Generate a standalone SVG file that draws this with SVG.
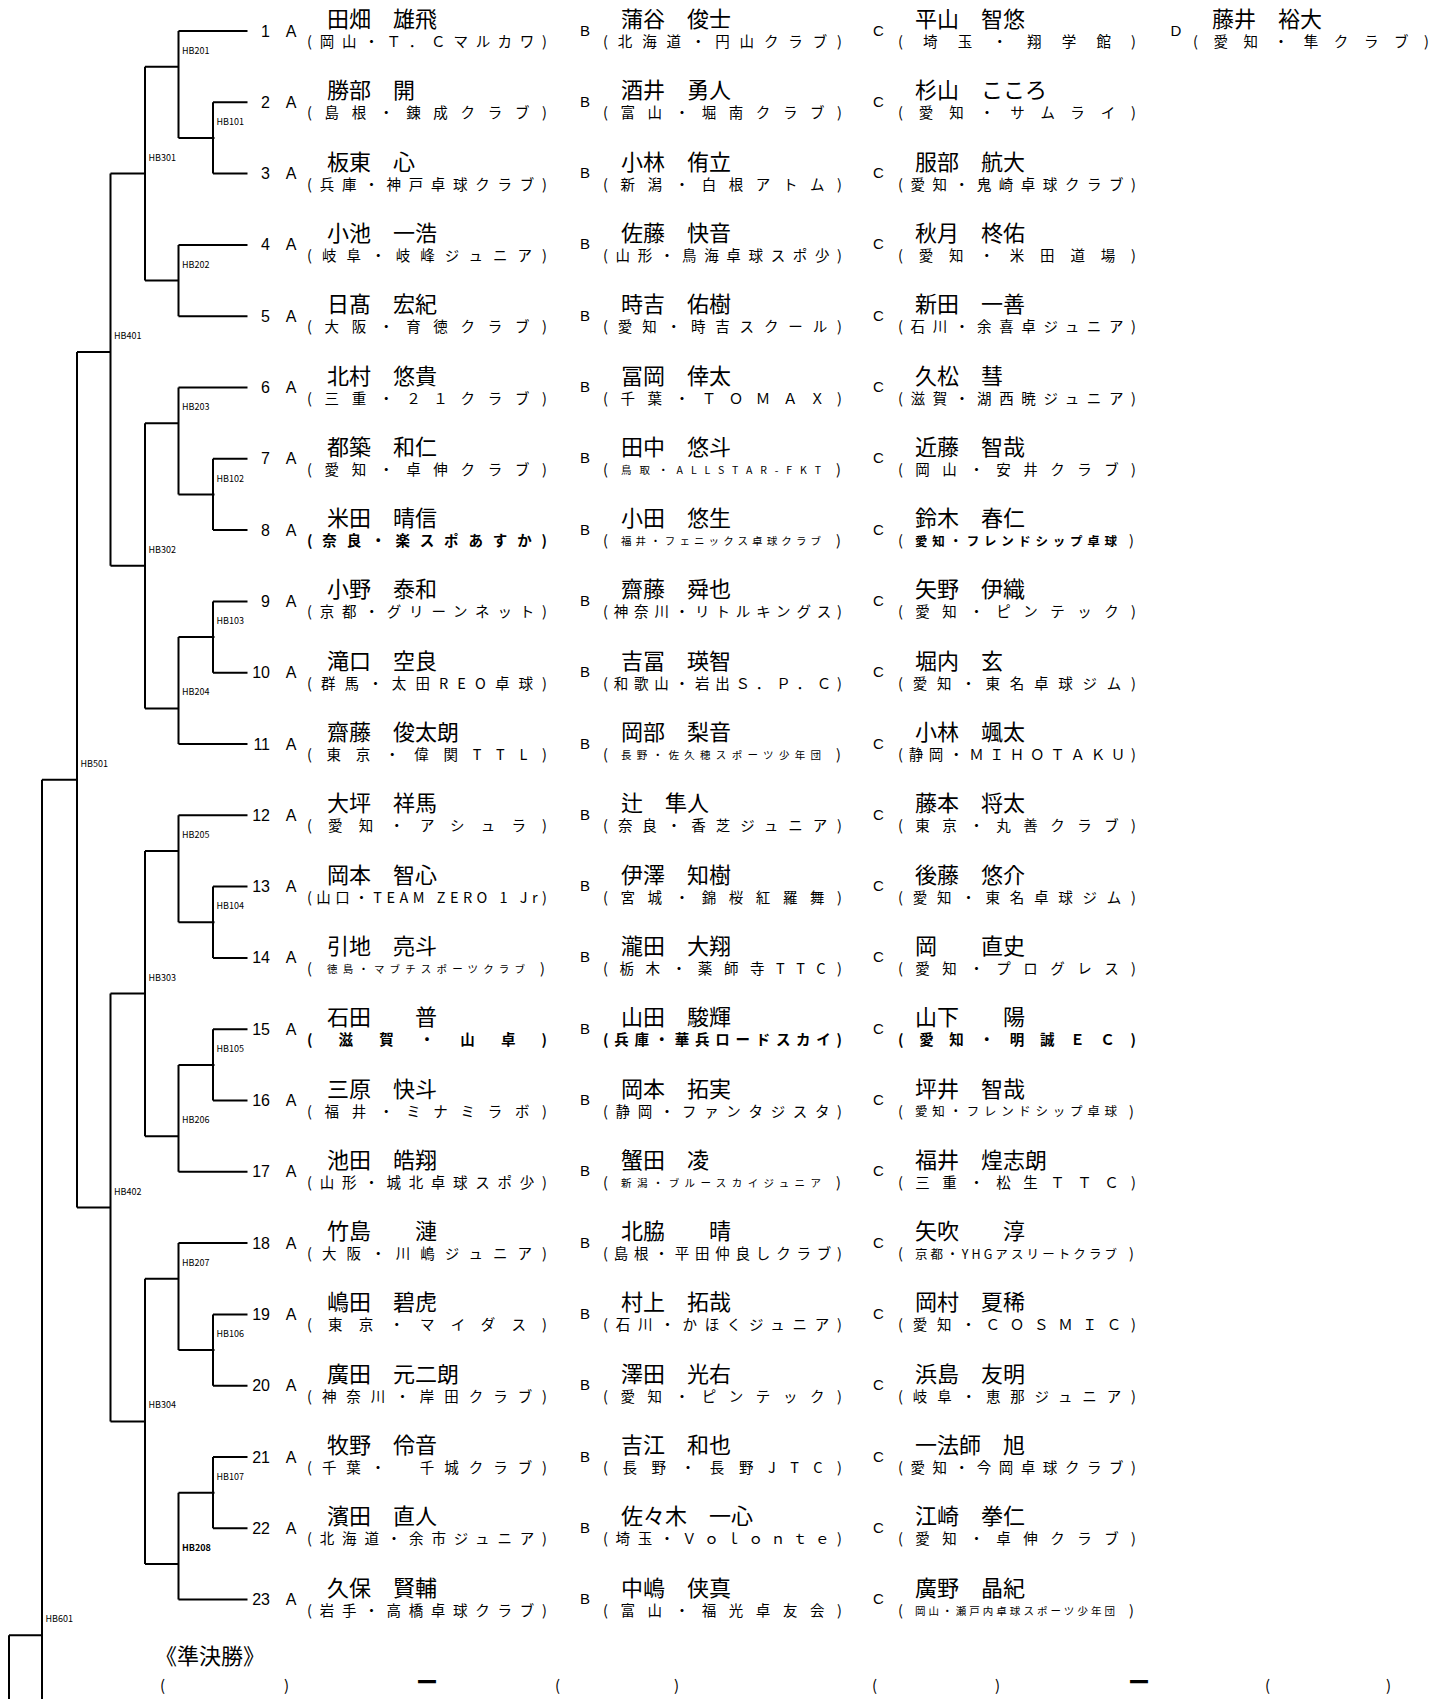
<svg xmlns="http://www.w3.org/2000/svg" width="1433" height="1699" viewBox="0 0 1433 1699">
<style>
text{font-family:"Noto Sans CJK JP","Noto Sans",sans-serif;fill:#000}
.num{font-family:"Liberation Sans",Arial,sans-serif;font-size:16px;text-anchor:end}
.pa{font-family:"Liberation Sans",Arial,sans-serif;font-size:16px;text-anchor:middle}
.pb{font-family:"Liberation Sans",Arial,sans-serif;font-size:15px;text-anchor:middle}
.nm{font-size:22px}
.cl{font-size:14.5px}
.cs{font-size:10.5px}
.cm{font-size:12.5px}
.b{font-weight:bold}
.hb{font-family:"Liberation Sans",Arial,sans-serif;font-size:9px;fill:#333}
.ln{fill:none;stroke:#000;stroke-width:2}
.bt{font-size:15px}
</style>
<g id="connectors" class="ln">
<path d="M178.5 31H247.5M213 102.3H247.5M213 173.6H247.5M178.5 244.9H247.5M178.5 316.2H247.5M178.5 387.5H247.5M213 458.8H247.5M213 530.1H247.5M213 601.4H247.5M213 672.7H247.5M178.5 744H247.5M178.5 815.3H247.5M213 886.6H247.5M213 957.9H247.5M213 1029.2H247.5M213 1100.5H247.5M178.5 1171.8H247.5M178.5 1243.1H247.5M213 1314.4H247.5M213 1385.7H247.5M213 1457H247.5M213 1528.3H247.5M178.5 1599.6H247.5"/>
<path d="M213 102.3V173.6M178.5 138H214.5M178.5 31V138M145 66.7H178.5M178.5 244.9V316.2M145 280.6H178.5M145 66.7V280.6M110.5 173.6H145"/>
<path d="M213 458.8V530.1M178.5 494.5H214.5M178.5 387.5V494.5M145 423.2H178.5M213 601.4V672.7M178.5 637.1H214.5M178.5 637.1V744M145 708.4H178.5M145 423.2V708.4M110.5 565.8H145M110.5 173.6V565.8M77 351.9H110.5"/>
<path d="M213 886.6V957.9M178.5 922.3H214.5M178.5 815.3V922.3M145 851H178.5M213 1029.2V1100.5M178.5 1064.9H214.5M178.5 1064.9V1171.8M145 1136.2H178.5M145 851V1136.2M110.5 993.6H145"/>
<path d="M213 1314.4V1385.7M178.5 1350.1H214.5M178.5 1243.1V1350.1M145 1278.8H178.5M213 1457V1528.3M178.5 1492.7H214.5M178.5 1492.7V1599.6M145 1564H178.5M145 1278.8V1564M110.5 1421.4H145M110.5 993.6V1421.4M77 1207.5H110.5"/>
<path d="M77 351.9V1207.5M42 779.7H77M42 779.7V1699M9 1635.3H42M9 1635.3V1699"/>
</g>
<g id="match-labels" class="hb">
<text x="216.5" y="125">HB101</text>
<text x="182" y="53.7">HB201</text>
<text x="182" y="267.6">HB202</text>
<text x="148.5" y="160.6">HB301</text>
<text x="216.5" y="481.5">HB102</text>
<text x="182" y="410.2">HB203</text>
<text x="216.5" y="624.1">HB103</text>
<text x="182" y="695.4">HB204</text>
<text x="148.5" y="552.8">HB302</text>
<text x="114" y="338.9">HB401</text>
<text x="216.5" y="909.3">HB104</text>
<text x="182" y="838">HB205</text>
<text x="216.5" y="1051.9">HB105</text>
<text x="182" y="1123.2">HB206</text>
<text x="148.5" y="980.6">HB303</text>
<text x="216.5" y="1337.1">HB106</text>
<text x="182" y="1265.8">HB207</text>
<text x="216.5" y="1479.7">HB107</text>
<text x="182" y="1551" font-weight="bold">HB208</text>
<text x="148.5" y="1408.4">HB304</text>
<text x="114" y="1194.5">HB402</text>
<text x="80.5" y="766.7">HB501</text>
<text x="45.5" y="1622.3">HB601</text>
</g>
<g id="row-1" transform="translate(0,31)">
<text class="num" x="270" y="5.5">1</text><text class="pa" x="291" y="5.5">A</text>
<text class="nm" x="327" y="-4">田畑　雄飛</text><text class="cl" x="307" y="16" textLength="240">(岡山・Ｔ．Ｃマルカワ)</text>
<text class="pb" x="585" y="4.5">B</text><text class="nm" x="621" y="-4">蒲谷　俊士</text><text class="cl" x="603" y="16" textLength="239">(北海道・円山クラブ)</text>
<text class="pb" x="878.5" y="4.5">C</text><text class="nm" x="915" y="-4">平山　智悠</text><text class="cl" x="898" y="16" textLength="238">(埼玉・翔学館)</text>
<text class="pb" x="1176" y="4.5">D</text><text class="nm" x="1212" y="-4">藤井　裕大</text><text class="cl" x="1193" y="16" textLength="236">(愛知・隼クラブ)</text>
</g>
<g id="row-2" transform="translate(0,102.3)">
<text class="num" x="270" y="5.5">2</text><text class="pa" x="291" y="5.5">A</text>
<text class="nm" x="327" y="-4">勝部　開</text><text class="cl" x="307" y="16" textLength="240">(島根・錬成クラブ)</text>
<text class="pb" x="585" y="4.5">B</text><text class="nm" x="621" y="-4">酒井　勇人</text><text class="cl" x="603" y="16" textLength="239">(富山・堀南クラブ)</text>
<text class="pb" x="878.5" y="4.5">C</text><text class="nm" x="915" y="-4">杉山　こころ</text><text class="cl" x="898" y="16" textLength="238">(愛知・サムライ)</text>
</g>
<g id="row-3" transform="translate(0,173.6)">
<text class="num" x="270" y="5.5">3</text><text class="pa" x="291" y="5.5">A</text>
<text class="nm" x="327" y="-4">板東　心</text><text class="cl" x="307" y="16" textLength="240">(兵庫・神戸卓球クラブ)</text>
<text class="pb" x="585" y="4.5">B</text><text class="nm" x="621" y="-4">小林　侑立</text><text class="cl" x="603" y="16" textLength="239">(新潟・白根アトム)</text>
<text class="pb" x="878.5" y="4.5">C</text><text class="nm" x="915" y="-4">服部　航大</text><text class="cl" x="898" y="16" textLength="238">(愛知・鬼崎卓球クラブ)</text>
</g>
<g id="row-4" transform="translate(0,244.9)">
<text class="num" x="270" y="5.5">4</text><text class="pa" x="291" y="5.5">A</text>
<text class="nm" x="327" y="-4">小池　一浩</text><text class="cl" x="307" y="16" textLength="240">(岐阜・岐峰ジュニア)</text>
<text class="pb" x="585" y="4.5">B</text><text class="nm" x="621" y="-4">佐藤　快音</text><text class="cl" x="603" y="16" textLength="239">(山形・鳥海卓球スポ少)</text>
<text class="pb" x="878.5" y="4.5">C</text><text class="nm" x="915" y="-4">秋月　柊佑</text><text class="cl" x="898" y="16" textLength="238">(愛知・米田道場)</text>
</g>
<g id="row-5" transform="translate(0,316.2)">
<text class="num" x="270" y="5.5">5</text><text class="pa" x="291" y="5.5">A</text>
<text class="nm" x="327" y="-4">日髙　宏紀</text><text class="cl" x="307" y="16" textLength="240">(大阪・育徳クラブ)</text>
<text class="pb" x="585" y="4.5">B</text><text class="nm" x="621" y="-4">時吉　佑樹</text><text class="cl" x="603" y="16" textLength="239">(愛知・時吉スクール)</text>
<text class="pb" x="878.5" y="4.5">C</text><text class="nm" x="915" y="-4">新田　一善</text><text class="cl" x="898" y="16" textLength="238">(石川・余喜卓ジュニア)</text>
</g>
<g id="row-6" transform="translate(0,387.5)">
<text class="num" x="270" y="5.5">6</text><text class="pa" x="291" y="5.5">A</text>
<text class="nm" x="327" y="-4">北村　悠貴</text><text class="cl" x="307" y="16" textLength="240">(三重・２１クラブ)</text>
<text class="pb" x="585" y="4.5">B</text><text class="nm" x="621" y="-4">冨岡　倖太</text><text class="cl" x="603" y="16" textLength="239">(千葉・ＴＯＭＡＸ)</text>
<text class="pb" x="878.5" y="4.5">C</text><text class="nm" x="915" y="-4">久松　彗</text><text class="cl" x="898" y="16" textLength="238">(滋賀・湖西暁ジュニア)</text>
</g>
<g id="row-7" transform="translate(0,458.8)">
<text class="num" x="270" y="5.5">7</text><text class="pa" x="291" y="5.5">A</text>
<text class="nm" x="327" y="-4">都築　和仁</text><text class="cl" x="307" y="16" textLength="240">(愛知・卓伸クラブ)</text>
<text class="pb" x="585" y="4.5">B</text><text class="nm" x="621" y="-4">田中　悠斗</text><text class="cl" x="603" y="16">(</text><text class="cs" x="621" y="15" textLength="200">鳥取・ALLSTAR-FKT</text><text class="cl" x="836" y="16">)</text>
<text class="pb" x="878.5" y="4.5">C</text><text class="nm" x="915" y="-4">近藤　智哉</text><text class="cl" x="898" y="16" textLength="238">(岡山・安井クラブ)</text>
</g>
<g id="row-8" transform="translate(0,530.1)">
<text class="num" x="270" y="5.5">8</text><text class="pa" x="291" y="5.5">A</text>
<text class="nm" x="327" y="-4">米田　晴信</text><text class="cl b" x="307" y="16" textLength="240">(奈良・楽スポあすか)</text>
<text class="pb" x="585" y="4.5">B</text><text class="nm" x="621" y="-4">小田　悠生</text><text class="cl" x="603" y="16">(</text><text class="cs" x="621" y="15" textLength="200">福井・フェニックス卓球クラブ</text><text class="cl" x="836" y="16">)</text>
<text class="pb" x="878.5" y="4.5">C</text><text class="nm" x="915" y="-4">鈴木　春仁</text><text class="cl" x="898" y="16">(</text><text class="cm b" x="915" y="15.5" textLength="202">愛知・フレンドシップ卓球</text><text class="cl" x="1129" y="16">)</text>
</g>
<g id="row-9" transform="translate(0,601.4)">
<text class="num" x="270" y="5.5">9</text><text class="pa" x="291" y="5.5">A</text>
<text class="nm" x="327" y="-4">小野　泰和</text><text class="cl" x="307" y="16" textLength="240">(京都・グリーンネット)</text>
<text class="pb" x="585" y="4.5">B</text><text class="nm" x="621" y="-4">齋藤　舜也</text><text class="cl" x="603" y="16" textLength="239">(神奈川・リトルキングス)</text>
<text class="pb" x="878.5" y="4.5">C</text><text class="nm" x="915" y="-4">矢野　伊織</text><text class="cl" x="898" y="16" textLength="238">(愛知・ピンテック)</text>
</g>
<g id="row-10" transform="translate(0,672.7)">
<text class="num" x="270" y="5.5">10</text><text class="pa" x="291" y="5.5">A</text>
<text class="nm" x="327" y="-4">滝口　空良</text><text class="cl" x="307" y="16" textLength="240">(群馬・太田REO卓球)</text>
<text class="pb" x="585" y="4.5">B</text><text class="nm" x="621" y="-4">吉冨　瑛智</text><text class="cl" x="603" y="16" textLength="239">(和歌山・岩出Ｓ．Ｐ．Ｃ)</text>
<text class="pb" x="878.5" y="4.5">C</text><text class="nm" x="915" y="-4">堀内　玄</text><text class="cl" x="898" y="16" textLength="238">(愛知・東名卓球ジム)</text>
</g>
<g id="row-11" transform="translate(0,744)">
<text class="num" x="270" y="5.5">11</text><text class="pa" x="291" y="5.5">A</text>
<text class="nm" x="327" y="-4">齋藤　俊太朗</text><text class="cl" x="307" y="16" textLength="240">(東京・偉関TTL)</text>
<text class="pb" x="585" y="4.5">B</text><text class="nm" x="621" y="-4">岡部　梨音</text><text class="cl" x="603" y="16">(</text><text class="cs" x="621" y="15" textLength="200">長野・佐久穂スポーツ少年団</text><text class="cl" x="836" y="16">)</text>
<text class="pb" x="878.5" y="4.5">C</text><text class="nm" x="915" y="-4">小林　颯太</text><text class="cl" x="898" y="16" textLength="238">(静岡・ＭＩＨＯＴＡＫＵ)</text>
</g>
<g id="row-12" transform="translate(0,815.3)">
<text class="num" x="270" y="5.5">12</text><text class="pa" x="291" y="5.5">A</text>
<text class="nm" x="327" y="-4">大坪　祥馬</text><text class="cl" x="307" y="16" textLength="240">(愛知・アシュラ)</text>
<text class="pb" x="585" y="4.5">B</text><text class="nm" x="621" y="-4">辻　隼人</text><text class="cl" x="603" y="16" textLength="239">(奈良・香芝ジュニア)</text>
<text class="pb" x="878.5" y="4.5">C</text><text class="nm" x="915" y="-4">藤本　将太</text><text class="cl" x="898" y="16" textLength="238">(東京・丸善クラブ)</text>
</g>
<g id="row-13" transform="translate(0,886.6)">
<text class="num" x="270" y="5.5">13</text><text class="pa" x="291" y="5.5">A</text>
<text class="nm" x="327" y="-4">岡本　智心</text><text class="cl" x="307" y="16" textLength="240">(山口・TEAM ZERO 1 Jr)</text>
<text class="pb" x="585" y="4.5">B</text><text class="nm" x="621" y="-4">伊澤　知樹</text><text class="cl" x="603" y="16" textLength="239">(宮城・錦桜紅羅舞)</text>
<text class="pb" x="878.5" y="4.5">C</text><text class="nm" x="915" y="-4">後藤　悠介</text><text class="cl" x="898" y="16" textLength="238">(愛知・東名卓球ジム)</text>
</g>
<g id="row-14" transform="translate(0,957.9)">
<text class="num" x="270" y="5.5">14</text><text class="pa" x="291" y="5.5">A</text>
<text class="nm" x="327" y="-4">引地　亮斗</text><text class="cl" x="307" y="16">(</text><text class="cs" x="327" y="15" textLength="198">徳島・マブチスポーツクラブ</text><text class="cl" x="540" y="16">)</text>
<text class="pb" x="585" y="4.5">B</text><text class="nm" x="621" y="-4">瀧田　大翔</text><text class="cl" x="603" y="16" textLength="239">(栃木・薬師寺TTC)</text>
<text class="pb" x="878.5" y="4.5">C</text><text class="nm" x="915" y="-4">岡　　直史</text><text class="cl" x="898" y="16" textLength="238">(愛知・プログレス)</text>
</g>
<g id="row-15" transform="translate(0,1029.2)">
<text class="num" x="270" y="5.5">15</text><text class="pa" x="291" y="5.5">A</text>
<text class="nm" x="327" y="-4">石田　　普</text><text class="cl b" x="307" y="16" textLength="240">(滋賀・山卓)</text>
<text class="pb" x="585" y="4.5">B</text><text class="nm" x="621" y="-4">山田　駿輝</text><text class="cl b" x="603" y="16" textLength="239">(兵庫・華兵ロードスカイ)</text>
<text class="pb" x="878.5" y="4.5">C</text><text class="nm" x="915" y="-4">山下　　陽</text><text class="cl b" x="898" y="16" textLength="238">(愛知・明誠ＥＣ)</text>
</g>
<g id="row-16" transform="translate(0,1100.5)">
<text class="num" x="270" y="5.5">16</text><text class="pa" x="291" y="5.5">A</text>
<text class="nm" x="327" y="-4">三原　快斗</text><text class="cl" x="307" y="16" textLength="240">(福井・ミナミラボ)</text>
<text class="pb" x="585" y="4.5">B</text><text class="nm" x="621" y="-4">岡本　拓実</text><text class="cl" x="603" y="16" textLength="239">(静岡・ファンタジスタ)</text>
<text class="pb" x="878.5" y="4.5">C</text><text class="nm" x="915" y="-4">坪井　智哉</text><text class="cl" x="898" y="16">(</text><text class="cm" x="915" y="15.5" textLength="202">愛知・フレンドシップ卓球</text><text class="cl" x="1129" y="16">)</text>
</g>
<g id="row-17" transform="translate(0,1171.8)">
<text class="num" x="270" y="5.5">17</text><text class="pa" x="291" y="5.5">A</text>
<text class="nm" x="327" y="-4">池田　皓翔</text><text class="cl" x="307" y="16" textLength="240">(山形・城北卓球スポ少)</text>
<text class="pb" x="585" y="4.5">B</text><text class="nm" x="621" y="-4">蟹田　凌</text><text class="cl" x="603" y="16">(</text><text class="cs" x="621" y="15" textLength="200">新潟・ブルースカイジュニア</text><text class="cl" x="836" y="16">)</text>
<text class="pb" x="878.5" y="4.5">C</text><text class="nm" x="915" y="-4">福井　煌志朗</text><text class="cl" x="898" y="16" textLength="238">(三重・松生ＴＴＣ)</text>
</g>
<g id="row-18" transform="translate(0,1243.1)">
<text class="num" x="270" y="5.5">18</text><text class="pa" x="291" y="5.5">A</text>
<text class="nm" x="327" y="-4">竹島　　漣</text><text class="cl" x="307" y="16" textLength="240">(大阪・川嶋ジュニア)</text>
<text class="pb" x="585" y="4.5">B</text><text class="nm" x="621" y="-4">北脇　　晴</text><text class="cl" x="603" y="16" textLength="239">(島根・平田仲良しクラブ)</text>
<text class="pb" x="878.5" y="4.5">C</text><text class="nm" x="915" y="-4">矢吹　　淳</text><text class="cl" x="898" y="16">(</text><text class="cm" x="915" y="15.5" textLength="202">京都・YHGアスリートクラブ</text><text class="cl" x="1129" y="16">)</text>
</g>
<g id="row-19" transform="translate(0,1314.4)">
<text class="num" x="270" y="5.5">19</text><text class="pa" x="291" y="5.5">A</text>
<text class="nm" x="327" y="-4">嶋田　碧虎</text><text class="cl" x="307" y="16" textLength="240">(東京・マイダス)</text>
<text class="pb" x="585" y="4.5">B</text><text class="nm" x="621" y="-4">村上　拓哉</text><text class="cl" x="603" y="16" textLength="239">(石川・かほくジュニア)</text>
<text class="pb" x="878.5" y="4.5">C</text><text class="nm" x="915" y="-4">岡村　夏稀</text><text class="cl" x="898" y="16" textLength="238">(愛知・ＣＯＳＭＩＣ)</text>
</g>
<g id="row-20" transform="translate(0,1385.7)">
<text class="num" x="270" y="5.5">20</text><text class="pa" x="291" y="5.5">A</text>
<text class="nm" x="327" y="-4">廣田　元二朗</text><text class="cl" x="307" y="16" textLength="240">(神奈川・岸田クラブ)</text>
<text class="pb" x="585" y="4.5">B</text><text class="nm" x="621" y="-4">澤田　光右</text><text class="cl" x="603" y="16" textLength="239">(愛知・ピンテック)</text>
<text class="pb" x="878.5" y="4.5">C</text><text class="nm" x="915" y="-4">浜島　友明</text><text class="cl" x="898" y="16" textLength="238">(岐阜・恵那ジュニア)</text>
</g>
<g id="row-21" transform="translate(0,1457)">
<text class="num" x="270" y="5.5">21</text><text class="pa" x="291" y="5.5">A</text>
<text class="nm" x="327" y="-4">牧野　伶音</text><text class="cl" x="307" y="16" textLength="240">(千葉・　千城クラブ)</text>
<text class="pb" x="585" y="4.5">B</text><text class="nm" x="621" y="-4">吉江　和也</text><text class="cl" x="603" y="16" textLength="239">(長野・長野JTC)</text>
<text class="pb" x="878.5" y="4.5">C</text><text class="nm" x="915" y="-4">一法師　旭</text><text class="cl" x="898" y="16" textLength="238">(愛知・今岡卓球クラブ)</text>
</g>
<g id="row-22" transform="translate(0,1528.3)">
<text class="num" x="270" y="5.5">22</text><text class="pa" x="291" y="5.5">A</text>
<text class="nm" x="327" y="-4">濱田　直人</text><text class="cl" x="307" y="16" textLength="240">(北海道・余市ジュニア)</text>
<text class="pb" x="585" y="4.5">B</text><text class="nm" x="621" y="-4">佐々木　一心</text><text class="cl" x="603" y="16" textLength="239">(埼玉・Ｖｏｌｏｎｔｅ)</text>
<text class="pb" x="878.5" y="4.5">C</text><text class="nm" x="915" y="-4">江崎　拳仁</text><text class="cl" x="898" y="16" textLength="238">(愛知・卓伸クラブ)</text>
</g>
<g id="row-23" transform="translate(0,1599.6)">
<text class="num" x="270" y="5.5">23</text><text class="pa" x="291" y="5.5">A</text>
<text class="nm" x="327" y="-4">久保　賢輔</text><text class="cl" x="307" y="16" textLength="240">(岩手・高橋卓球クラブ)</text>
<text class="pb" x="585" y="4.5">B</text><text class="nm" x="621" y="-4">中嶋　侠真</text><text class="cl" x="603" y="16" textLength="239">(富山・福光卓友会)</text>
<text class="pb" x="878.5" y="4.5">C</text><text class="nm" x="915" y="-4">廣野　晶紀</text><text class="cl" x="898" y="16">(</text><text class="cs" x="915" y="15" textLength="200">岡山・瀬戸内卓球スポーツ少年団</text><text class="cl" x="1129" y="16">)</text>
</g>
<g id="semifinal">
<text class="nm" x="155" y="1664">《準決勝》</text>
<text class="bt" x="160" y="1691">(</text><text class="bt" x="284" y="1691">)</text>
<text class="nm b" x="416" y="1690">ー</text>
<text class="bt" x="555" y="1691">(</text><text class="bt" x="674" y="1691">)</text>
<text class="bt" x="872" y="1691">(</text><text class="bt" x="995" y="1691">)</text>
<text class="nm b" x="1128" y="1690">ー</text>
<text class="bt" x="1265" y="1691">(</text><text class="bt" x="1386" y="1691">)</text>
</g>
</svg>
